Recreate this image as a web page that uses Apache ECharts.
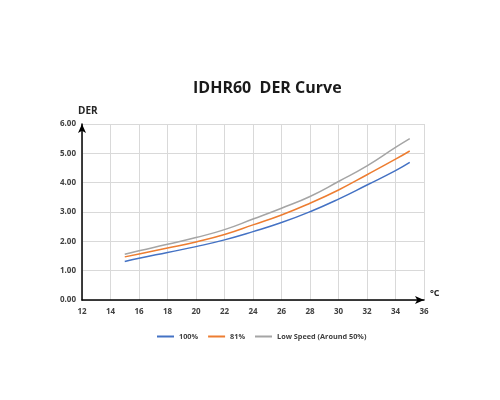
<!DOCTYPE html>
<html><head><meta charset="utf-8">
<script src="https://cdn.jsdelivr.net/npm/echarts@6/dist/echarts.min.js"></script>
<style>html,body{margin:0;padding:0;background:#fff}#c{width:500px;height:400px}</style>
</head><body><div id="c"></div>
<script>
const temps = [15,16,18,20,22,24,26,28,30,32,34,35];
const s100 = [1.31,1.42,1.62,1.82,2.05,2.33,2.64,3.01,3.44,3.92,4.41,4.69];
const s81 = [1.47,1.57,1.77,1.98,2.23,2.56,2.90,3.30,3.75,4.27,4.80,5.08];
const sLow = [1.56,1.68,1.90,2.13,2.40,2.76,3.13,3.53,4.04,4.57,5.20,5.50];
const names = ['100%','81%','Low Speed (Around 50%)'];
const colors = ['#4472C4','#ED7D31','#A5A5A5'];
const pair = arr => temps.map((t,i)=>[t,arr[i]]);
const chart = echarts.init(document.getElementById('c'));
const lab = {fontFamily:'Open Sans, sans-serif',fontWeight:'bold',fontSize:8,color:'#404040'};
chart.setOption({
  animation:false,
  title:{text:'IDHR60  DER Curve',left:188,top:75,textStyle:{fontFamily:'Open Sans, sans-serif',fontWeight:'bold',fontSize:16,color:'#1a1a1a'}},
  grid:{left:82,right:76,top:124,bottom:100},
  legend:{bottom:55,left:152,itemWidth:17,itemHeight:2,itemGap:10,icon:'rect',
    textStyle:{fontFamily:'Open Sans, sans-serif',fontWeight:'bold',fontSize:7.3,color:'#404040'},data:names},
  xAxis:{type:'value',min:12,max:36,interval:2,name:'°C',nameGap:6,
    nameTextStyle:{fontFamily:'Open Sans, sans-serif',fontWeight:'bold',fontSize:9,color:'#262626',verticalAlign:'bottom',padding:[0,0,2,0]},
    axisLine:{lineStyle:{color:'#000',width:1.5},symbol:['none','arrow'],symbolSize:[6,9]},
    axisTick:{show:false},axisLabel:Object.assign({margin:8},lab),
    splitLine:{lineStyle:{color:'#d9d9d9'}}},
  yAxis:{type:'value',min:0,max:6,interval:1,name:'DER',nameGap:8,
    nameTextStyle:{fontFamily:'Open Sans, sans-serif',fontWeight:'bold',fontSize:10,color:'#262626',align:'left',padding:[0,0,0,-4]},
    axisLine:{show:true,lineStyle:{color:'#000',width:1.5},symbol:['none','arrow'],symbolSize:[6,9]},
    axisTick:{show:false},axisLabel:Object.assign({margin:6,formatter:v=>v.toFixed(2)},lab),
    splitLine:{lineStyle:{color:'#d9d9d9'}}},
  series:[s100,s81,sLow].map((d,i)=>({name:names[i],type:'line',data:pair(d),smooth:true,showSymbol:false,
    lineStyle:{color:colors[i],width:1.5},itemStyle:{color:colors[i]},z:3}))
});
</script></body></html>
